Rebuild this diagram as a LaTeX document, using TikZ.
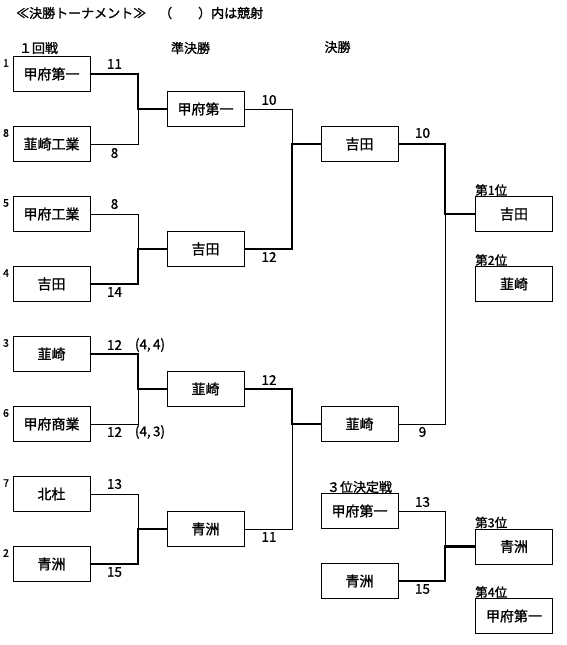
\documentclass[tikz,border=0pt]{standalone}
\usepackage{fontspec}
\newfontfamily\jp[FakeBold=1.2]{Noto Sans CJK JP}
\usetikzlibrary{positioning}

\tikzset{
  team/.style={draw, line width=0.9pt, minimum width=77pt, minimum height=35pt, inner sep=0pt, font=\jp\fontsize{14}{15}\selectfont},
  score/.style={inner sep=0pt, font=\jp\fontsize{13.5}{14}\selectfont},
  seed/.style={inner sep=0pt, font=\jp\fontsize{10.5}{11}\selectfont},
  title/.style={inner sep=0pt, font=\jp\fontsize{13}{14}\selectfont},
  rank/.style={inner sep=0pt, anchor=south west, font=\jp\fontsize{12.5}{13}\selectfont},
  lost/.style={line width=1pt},
  won/.style={line width=2.9pt}
}

\begin{document}
\begin{tikzpicture}[x=1pt, y=-1pt]
    \useasboundingbox (0,0) rectangle (567,645);

    % Titulos
    \node[title, anchor=west] (head) at (16,13) {≪決勝トーナメント≫　（　　）内は競射};
    \node[title] (hr1) at (38.5,48) {１回戦};
    \node[title] (hr2) at (190.5,48) {準決勝};
    \node[title] (hr3) at (337.5,47) {決勝};

    % 1 回戦
    \foreach \n/\k/\t [count=\i from 0] in {a/1/甲府第一, b/8/韮崎工業, c/5/甲府工業, d/4/吉田,
                                           e/3/韮崎, f/6/甲府商業, g/7/北杜, h/2/青洲} {
        \node[team] (\n) at (51.5, 74+70*\i) {\t};
        \node[seed] (k\n) at (6, 63+70*\i) {\k};
    }

    % Semifinal e final
    \foreach \n/\y/\t in {sa/109/甲府第一, sb/249/吉田, sc/389/韮崎, sd/529/青洲}
        \node[team] (\n) at (205.5, \y) {\t};
    \node[team] (fa) at (359.5, 144) {吉田};
    \node[team] (fb) at (359.5, 424) {韮崎};
    \node[team] (ta) at (359.5, 511) {甲府第一};
    \node[team] (tb) at (359.5, 581) {青洲};
    \node[title] (h3rd) at (359.5, 487) {３位決定戦};

    % Colocacao
    \foreach \n/\y/\p/\t in {ra/214/1/吉田, rb/284/2/韮崎, rc/546.5/3/青洲, rd/616/4/甲府第一} {
        \node[team] (\n) at (514, \y) {\t};
        \node[rank] (l\n) at (\n.north west) {第\p 位};
    }

    % Pontos de juncao
    \foreach \j/\x/\y in {ja/138/109, jb/138/249, jc/138/389, jd/138/529,
                         je/292/144, jf/292/424, jg/445/214, jh/445/546.5}
        \coordinate (\j) at (\x, \y);

    % Perdedores
    \draw[lost] (b.east) -| (ja);
    \draw[lost] (c.east) -| (jb);
    \draw[lost] (f.east) -| (jc);
    \draw[lost] (g.east) -| (jd);
    \draw[lost] (sa.east) -| (je);
    \draw[lost] (sd.east) -| (jf);
    \draw[lost] (fb.east) -| (jg);
    \draw[lost] (ta.east) -| (jh);

    % Vencedores
    \draw[won] (a.east) -| (ja) -- (sa.west);
    \draw[won] (d.east) -| (jb) -- (sb.west);
    \draw[won] (e.east) -| (jc) -- (sc.west);
    \draw[won] (h.east) -| (jd) -- (sd.west);
    \draw[won] (sb.east) -| (je) -- (fa.west);
    \draw[won] (sc.east) -| (jf) -- (fb.west);
    \draw[won] (fa.east) -| (jg) -- (ra.west);
    \draw[won] (tb.east) -| (jh) -- (rc.west);

    % Placar
    \foreach \s/\x/\y/\v in {s1/114.5/64/11, s2/114.5/153/8, s3/114.5/204/8, s4/114.5/292/14,
                            s5/114.5/345/12, s6/114.5/432/12, s7/114.5/484/13, s8/114.5/572/15,
                            s9/269/100/10, s10/269/257/12, s11/269/380/12, s12/269/537/11,
                            s13/422.5/133/10, s14/422.5/432/9, s15/422.5/502/13, s16/422.5/589/15}
        \node[score] (\s) at (\x, \y) {\v};
    \node[score] (x1) at (150, 345) {(4,\,4)};
    \node[score] (x2) at (150, 432) {(4,\,3)};
\end{tikzpicture}
\end{document}
